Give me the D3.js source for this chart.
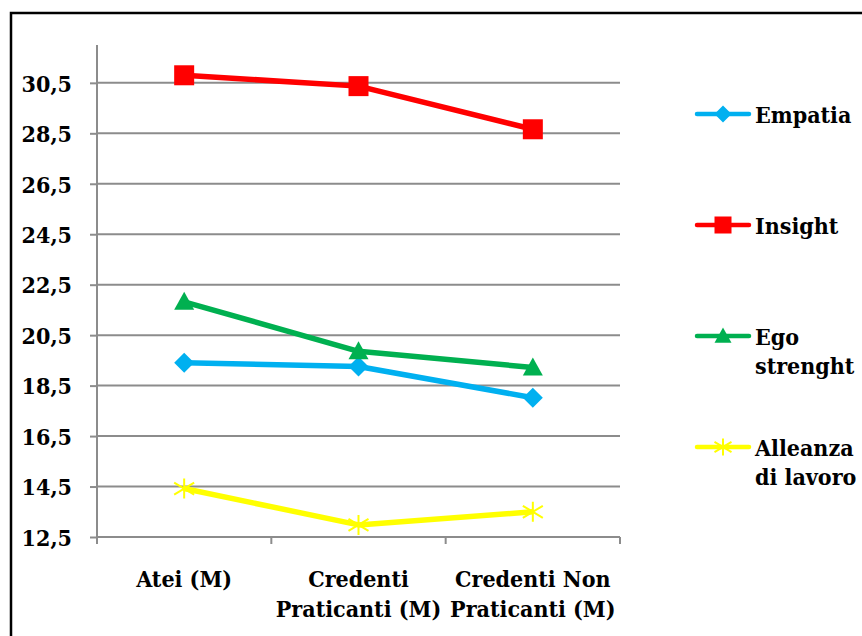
<!DOCTYPE html>
<html>
<head>
<meta charset="utf-8">
<script src="https://cdn.jsdelivr.net/npm/d3@7"></script>
<style>
  html, body { margin: 0; padding: 0; background: #fff; }
  svg { display: block; }
  .lbl { font-stretch: condensed; }
</style>
</head>
<body>
<svg id="chart" width="862" height="636"></svg>
<script>
// Group categories (each label split into lines)
const categories = ["Atei (M)", "Credenti Praticanti (M)", "Credenti Non Praticanti (M)"];
const categoryLines = [["Atei (M)"], ["Credenti", "Praticanti (M)"], ["Credenti Non", "Praticanti (M)"]];

// Series means per group
const empatia  = [19.41, 19.26, 18.02];
const insight  = [30.80, 30.37, 28.66];
const ego      = [21.82, 19.86, 19.22];
const alleanza = [14.42, 12.98, 13.50];

const seriesNames = ["Empatia", "Insight", "Ego strenght", "Alleanza di lavoro"];
const legendLines = [["Empatia"], ["Insight"], ["Ego", "strenght"], ["Alleanza", "di lavoro"]];

// Y axis ticks
const yTicks = [12.5, 14.5, 16.5, 18.5, 20.5, 22.5, 24.5, 26.5, 28.5, 30.5];
const yTickLabels = ["12,5", "14,5", "16,5", "18,5", "20,5", "22,5", "24,5", "26,5", "28,5", "30,5"];

const series = [
  { name: seriesNames[0], values: empatia,  color: "#00B0F0", marker: "diamond" },
  { name: seriesNames[1], values: insight,  color: "#FF0000", marker: "square" },
  { name: seriesNames[2], values: ego,      color: "#00B050", marker: "triangle" },
  { name: seriesNames[3], values: alleanza, color: "#FFFF00", marker: "star" }
];

const FONT = "DejaVu Serif Condensed, DejaVu Serif, serif";
const FS = 23;

const svg = d3.select("#chart");

// Outer frame
svg.append("rect")
  .attr("x", 11).attr("y", 13).attr("width", 900).attr("height", 700)
  .attr("fill", "none").attr("stroke", "#000").attr("stroke-width", 2.5);

const plot = { left: 97, right: 620, top: 45, bottom: 537 };

const x = d3.scaleBand().domain(categories).range([plot.left, plot.right]).padding(0);
const y = d3.scaleLinear().domain([12.5, 32]).range([plot.bottom, plot.top]);
const cx = c => x(c) + x.bandwidth() / 2;

const gridColor = "#8C8C8C";

// Horizontal gridlines
svg.append("g").selectAll("line").data(yTicks).join("line")
  .attr("x1", plot.left).attr("x2", plot.right)
  .attr("y1", d => y(d)).attr("y2", d => y(d))
  .attr("stroke", gridColor).attr("stroke-width", 2);

// Y axis
const yAxis = d3.axisLeft(y).tickValues(yTicks).tickSize(7).tickPadding(18)
  .tickFormat((d, i) => yTickLabels[i]);
const gy = svg.append("g").attr("transform", `translate(${plot.left},0)`).call(yAxis)
  .attr("font-family", FONT).attr("font-size", FS).attr("font-weight", "bold");
gy.select(".domain").attr("d", `M0,${plot.top}V${plot.bottom}`).attr("stroke", gridColor).attr("stroke-width", 2);
gy.selectAll(".tick line").attr("stroke", gridColor).attr("stroke-width", 2);
gy.selectAll(".tick text").attr("class", "lbl").attr("fill", "#000").attr("dy", "0.36em");

// X axis (ticks at band edges)
const xEdges = categories.map(c => x(c)).concat([plot.right]);
const gx = svg.append("g");
gx.append("line")
  .attr("x1", plot.left).attr("x2", plot.right)
  .attr("y1", plot.bottom).attr("y2", plot.bottom)
  .attr("stroke", gridColor).attr("stroke-width", 2);
gx.selectAll("line.tk").data(xEdges).join("line").attr("class", "tk")
  .attr("x1", d => d).attr("x2", d => d)
  .attr("y1", plot.bottom).attr("y2", plot.bottom + 7)
  .attr("stroke", gridColor).attr("stroke-width", 2);

// Category labels
categories.forEach((c, i) => {
  const t = svg.append("text").attr("class", "lbl")
    .attr("x", cx(c)).attr("y", 587)
    .attr("text-anchor", "middle")
    .attr("font-family", FONT).attr("font-size", FS).attr("font-weight", "bold");
  categoryLines[i].forEach((ln, j) => {
    t.append("tspan").attr("x", cx(c)).attr("dy", j === 0 ? 0 : 30).text(ln);
  });
});

// Marker drawing
function drawMarker(g, type, color, px, py, s) {
  if (type === "square") {
    g.append("rect").attr("x", px - s / 2).attr("y", py - s / 2)
      .attr("width", s).attr("height", s).attr("fill", color);
  } else if (type === "diamond") {
    const h = s / 2;
    g.append("path").attr("d", `M${px},${py - h}L${px + h},${py}L${px},${py + h}L${px - h},${py}Z`)
      .attr("fill", color);
  } else if (type === "triangle") {
    const h = s / 2;
    g.append("path").attr("d", `M${px},${py - h}L${px + h},${py + h * 0.8}L${px - h},${py + h * 0.8}Z`)
      .attr("fill", color);
  } else if (type === "star") {
    const h = s / 2;
    const d = `M${px},${py - h}V${py + h}M${px - h},${py - h * 0.6}L${px + h},${py + h * 0.6}M${px - h},${py + h * 0.6}L${px + h},${py - h * 0.6}`;
    g.append("path").attr("d", d).attr("stroke", color).attr("stroke-width", 2).attr("fill", "none");
  }
}

// Series lines and markers
const line = d3.line().x((d, i) => cx(categories[i])).y(d => y(d));
series.forEach(s => {
  const g = svg.append("g");
  g.append("path").datum(s.values).attr("d", line)
    .attr("fill", "none").attr("stroke", s.color).attr("stroke-width", 5.5)
    .attr("stroke-linejoin", "round");
  s.values.forEach((v, i) => drawMarker(g, s.marker, s.color, cx(categories[i]), y(v), 20));
});

// Legend
const legendY = [114, 225, 336, 447];
series.forEach((s, i) => {
  const g = svg.append("g");
  const ly = legendY[i];
  g.append("line").attr("x1", 697).attr("x2", 749).attr("y1", ly).attr("y2", ly)
    .attr("stroke", s.color).attr("stroke-width", 4.5).attr("stroke-linecap", "round");
  drawMarker(g, s.marker, s.color, 723, ly, 17);
  const t = g.append("text").attr("class", "lbl").attr("x", 755).attr("y", ly + 9)
    .attr("font-family", FONT).attr("font-size", FS).attr("font-weight", "bold");
  legendLines[i].forEach((ln, j) => {
    t.append("tspan").attr("x", 755).attr("dy", j === 0 ? 0 : 29).text(ln);
  });
});
</script>
</body>
</html>
